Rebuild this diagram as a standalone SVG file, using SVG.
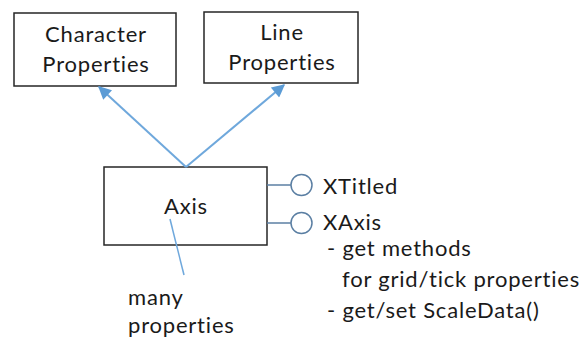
<svg xmlns="http://www.w3.org/2000/svg" width="579" height="338" viewBox="0 0 579 338">
  <defs>
    <style>
      text { font-family: Lato, "Open Sans", "Liberation Sans", sans-serif; font-size: 22px; letter-spacing: 0.8px; fill: #1a1a1a; }
      .box { fill: #ffffff; stroke: #262626; stroke-width: 1.5; }
      .dep { stroke: #6fa8dc; stroke-width: 2; fill: none; }
      .note { stroke: #6fa8dc; stroke-width: 1.5; fill: none; }
      .iface { stroke: #5b7fa3; stroke-width: 1.5; fill: #ffffff; }
    </style>
    <marker id="arrow" viewBox="0 0 10 10" refX="9" refY="5" markerWidth="7.5" markerHeight="6.5" orient="auto" markerUnits="strokeWidth">
      <path d="M0,0 L10,5 L0,10 z" fill="#5b9bd5"/>
    </marker>
  </defs>
  <rect width="579" height="338" fill="#ffffff"/>

  <g id="character-properties">
    <rect class="box" x="14" y="13" width="162" height="73"/>
    <text x="96" y="42" text-anchor="middle">Character</text>
    <text x="96" y="72" text-anchor="middle">Properties</text>
  </g>

  <g id="line-properties">
    <rect class="box" x="204" y="12" width="154" height="71"/>
    <text x="282" y="40" text-anchor="middle">Line</text>
    <text x="282" y="70" text-anchor="middle">Properties</text>
  </g>

  <g id="axis">
    <rect class="box" x="104" y="167" width="163" height="78"/>
    <text x="186" y="214" text-anchor="middle">Axis</text>
  </g>

  <g id="xtitled">
    <circle class="iface" cx="301.5" cy="185" r="10.5"/>
    <text x="323" y="194">XTitled</text>
  </g>

  <g id="xaxis">
    <circle class="iface" cx="301.5" cy="223" r="10.5"/>
    <text x="323" y="230">XAxis</text>
    <text x="327" y="256">- get methods</text>
    <text x="342" y="287">for grid/tick properties</text>
    <text x="327" y="318">- get/set ScaleData()</text>
  </g>

  <g id="many-properties">
    <text x="128" y="305">many</text>
    <text x="128" y="333">properties</text>
  </g>

  <g id="connectors">
    <line class="dep" x1="186" y1="167" x2="99" y2="87" marker-end="url(#arrow)"/>
    <line class="dep" x1="186" y1="167" x2="284" y2="85" marker-end="url(#arrow)"/>
    <line class="note" x1="170" y1="219" x2="184" y2="275"/>
    <line class="iface" x1="267" y1="185" x2="291" y2="185"/>
    <line class="iface" x1="267" y1="223" x2="291" y2="223"/>
  </g>
</svg>
